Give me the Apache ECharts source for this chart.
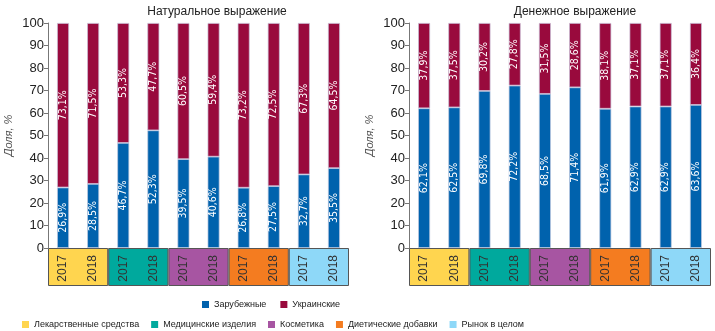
<!DOCTYPE html>
<html><head><meta charset="utf-8">
<script src="https://cdn.jsdelivr.net/npm/echarts@6/dist/echarts.min.js"></script>
<style>html,body{margin:0;padding:0;background:#fff}#c{width:715px;height:331px}</style>
</head><body><div id="c"></div>
<script>
const years = ['2017','2018','2017','2018','2017','2018','2017','2018','2017','2018'];
const groups = ['Лекарственные средства','Медицинские изделия','Косметика','Диетические добавки','Рынок в целом'];
const groupColors = ['#FFD54F','#00A99D','#A755A2','#F47C20','#8ED8F8'];
const natForeign = [26.9,28.5,46.7,52.3,39.5,40.6,26.8,27.5,32.7,35.5];
const natUkr = [73.1,71.5,53.3,47.7,60.5,59.4,73.2,72.5,67.3,64.5];
const monForeign = [62.1,62.5,69.8,72.2,68.5,71.4,61.9,62.9,62.9,63.6];
const monUkr = [37.9,37.5,30.2,27.8,31.5,28.6,38.1,37.1,37.1,36.4];
const titles = ['Натуральное выражение','Денежное выражение'];
const yTicks = {min:0,max:100,interval:10};

const BLUE = '#0062AD', RED = '#990A3D';
const SANS = "'Liberation Sans', Arial, sans-serif";
const COND = "'DejaVu Sans Condensed','DejaVu Sans',sans-serif";
const fmt = p => p.value.toFixed(1).replace('.', ',') + '%';

const panels = [
  {left:48, right:366, foreign:natForeign, ukr:natUkr, title:titles[0], tx:212},
  {left:409, right:4, foreign:monForeign, ukr:monUkr, title:titles[1], tx:570}
];
const grid=[], xAxis=[], yAxis=[], series=[], title=[];
panels.forEach((p,i)=>{
  const gi = grid.length;
  grid.push({left:p.left, right:p.right, top:23, bottom:83});
  grid.push({left:p.left, right:p.right, top:248, height:38});
  title.push({text:p.title, left:p.tx, top:1, textAlign:'center',
    textStyle:{fontSize:12, fontWeight:'normal', color:'#222', fontFamily:SANS}});
  const xi = xAxis.length;
  xAxis.push({type:'category', gridIndex:gi, data:years, z:10,
    axisLine:{show:false}, axisTick:{show:false},
    axisLabel:{rotate:90, margin:7, fontSize:12, color:'#333', fontFamily:SANS, interval:0}});
  xAxis.push({type:'category', gridIndex:gi+1, data:groups, show:false});
  const yi = yAxis.length;
  yAxis.push({type:'value', gridIndex:gi, min:yTicks.min, max:yTicks.max, interval:yTicks.interval,
    name:'Доля, %', nameLocation:'middle', nameGap:34, nameRotate:90,
    nameTextStyle:{fontSize:11, color:'#555', fontStyle:'italic', fontFamily:SANS},
    axisLine:{show:true, lineStyle:{color:'#777', width:1}},
    axisTick:{show:true, length:4, lineStyle:{color:'#777'}},
    axisLabel:{fontSize:13, color:'#222', margin:4, fontFamily:SANS},
    splitLine:{show:false}});
  yAxis.push({type:'value', gridIndex:gi+1, min:0, max:1, show:false});
  const lab = {show:true, position:'inside', rotate:90, color:'#fff', fontSize:10.5, fontFamily:COND, formatter:fmt};
  series.push({name:'Зарубежные', type:'bar', stack:'s'+i, xAxisIndex:xi, yAxisIndex:yi, data:p.foreign,
    barWidth:12, itemStyle:{color:BLUE, borderColor:'rgba(190,200,225,0.9)', borderWidth:0.8}, label:lab});
  series.push({name:'Украинские', type:'bar', stack:'s'+i, xAxisIndex:xi, yAxisIndex:yi, data:p.ukr,
    barWidth:12, itemStyle:{color:RED, borderColor:'rgba(200,190,215,0.9)', borderWidth:0.8}, label:lab});
  groups.forEach((g,k)=>{
    const d = groups.map((_,m)=> m===k ? 1 : '-');
    series.push({name:g, type:'bar', xAxisIndex:xi+1, yAxisIndex:yi+1, data:d, z:1,
      barWidth:'100%', barGap:'-100%', silent:true,
      itemStyle:{color:groupColors[k], borderColor:'#555', borderWidth:1}});
  });
});

const chart = echarts.init(document.getElementById('c'));
const legText = {fontSize:9, color:'#222', fontFamily:SANS};
chart.setOption({
  animation:false,
  title:title,
  legend:[
    {data:['Зарубежные','Украинские'], left:197, top:295, itemWidth:7, itemHeight:7, itemGap:14, icon:'rect',
      itemStyle:{borderWidth:0}, textStyle:legText},
    {data:groups, left:17, top:315, itemWidth:7, itemHeight:7, itemGap:12, icon:'rect',
      itemStyle:{borderWidth:0}, textStyle:legText}
  ],
  grid:grid, xAxis:xAxis, yAxis:yAxis, series:series
});
</script></body></html>
